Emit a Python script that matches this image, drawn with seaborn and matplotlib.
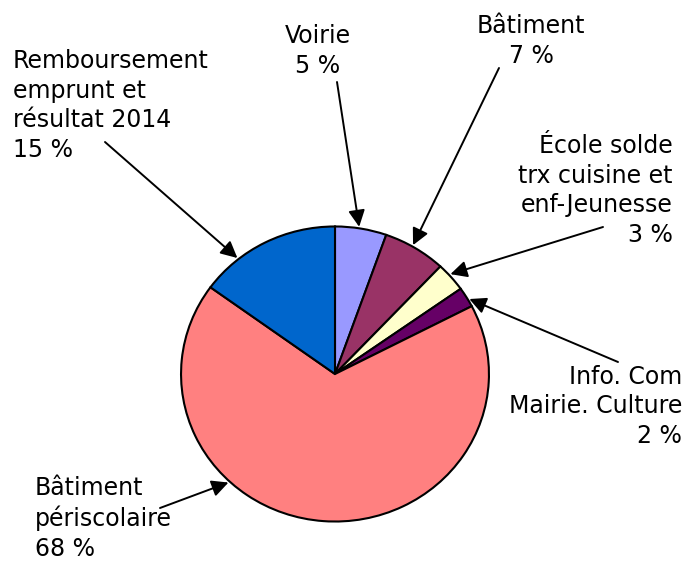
import numpy as np
import matplotlib
matplotlib.use("Agg")
import matplotlib.pyplot as plt
import seaborn as sns

# parts of the budget, clockwise from the top
labels = ["Voirie", "Bâtiment", "École solde\ntrx cuisine et\nenf-Jeunesse",
          "Info. Com\nMairie. Culture", "Bâtiment\npériscolaire",
          "Remboursement\nemprunt et\nrésultat 2014"]
values = [5.4, 6.6, 3.2, 2.2, 67.6, 15.0]
colors = ["#9999FF", "#993366", "#FFFFCC", "#660066", "#FF8080", "#0066CC"]

# label layout (pixels from top-left, baseline of last line), alignment,
# arrow start, where along the wedge the arrow hits
text_xy = [(318, 73), (531, 63), (673, 242), (682, 443), (35, 556), (13, 157)]
text_ha = ["center", "center", "right", "right", "left", "left"]
arrow_from = [(337, 82), (499, 68), (603, 227), (618, 362), (160, 508), (105, 142)]
hit_frac = [0.46, 0.45, 0.41, 0.64, 0.66, 0.28]

sns.set_theme(style="white")
plt.rcParams["font.family"] = ["DejaVu Sans"]

W, H = 685, 561
fig = plt.figure(figsize=(W / 100, H / 100), dpi=100)
# pie box: slightly wider than tall, like the original
cx, cy, rx, ry = 335, 374, 155.5, 149
ax = fig.add_axes([(cx - rx) / W, (H - cy - ry) / H, 2 * rx / W, 2 * ry / H])
ax.pie(values, colors=colors, startangle=90, counterclock=False, radius=1,
       wedgeprops=dict(edgecolor="black", linewidth=1.5))
ax.set_aspect("auto")
ax.set_xlim(-1.01, 1.01)
ax.set_ylim(-1.01, 1.01)
ax.axis("off")

total = sum(values)
cum = np.cumsum([0] + values) / total * 360
for i, lab in enumerate(labels):
    pct = "%d %%" % round(values[i] / total * 100)
    tx, ty = text_xy[i]
    fig.text(tx / W, 1 - ty / H, lab + "\n" + pct, ha=text_ha[i], va="baseline",
             multialignment=text_ha[i], fontsize=17, color="black", linespacing=1.3)
    a = np.radians(cum[i] + hit_frac[i] * (cum[i + 1] - cum[i]))
    sx, sy = arrow_from[i]
    ax.annotate("", xy=(np.sin(a) * 1.01, np.cos(a) * 1.01), xycoords="data",
                xytext=(sx / W, 1 - sy / H), textcoords="figure fraction",
                arrowprops=dict(arrowstyle="-|>,head_length=0.5,head_width=0.25",
                                color="black", lw=1.4, mutation_scale=20,
                                shrinkA=0, shrinkB=0), annotation_clip=False)

fig.savefig("out.png", dpi=100)
